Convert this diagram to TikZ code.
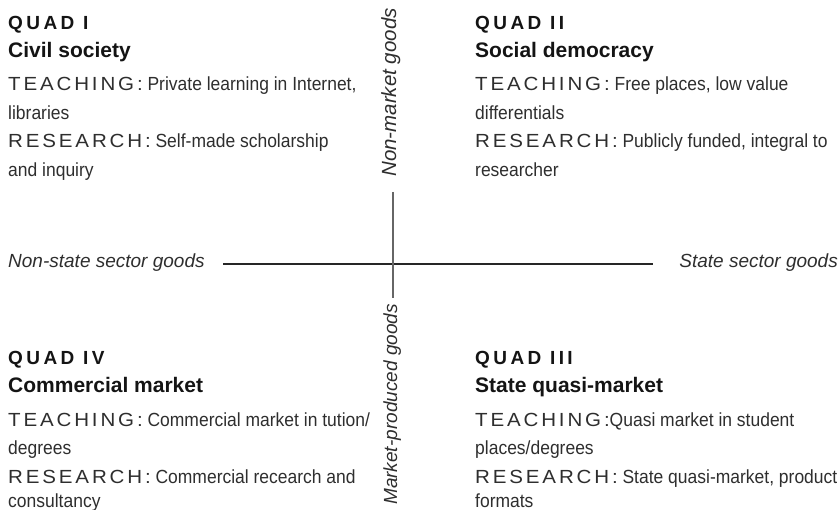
\documentclass[tikz,border=0pt]{standalone}
\usepackage{fontspec}
\setmainfont{Liberation Sans}
\newfontfamily\bodyfont[FakeStretch=0.92]{Liberation Sans}
\newfontfamily\spacedfont[LetterSpace=15,FakeStretch=1.08]{Liberation Sans}
\newfontfamily\quadfont[LetterSpace=18]{Liberation Sans}
\newcommand\lsp[1]{{\spacedfont #1}}
\begin{document}
\begin{tikzpicture}[x=1pt,y=-1pt,
  every node/.style={inner sep=0pt, anchor=base west},
  quad/.style={font=\quadfont\bfseries\fontsize{19}{21}\selectfont, text=black!92},
  ttl/.style={font=\bfseries\fontsize{21}{23}\selectfont, text=black!92},
  body/.style={font=\bodyfont\fontsize{19}{21}\selectfont, text=black!82},
  axislbl/.style={font=\itshape\fontsize{19}{21}\selectfont, text=black!82},
  hline/.style={draw=black!85, line width=1.2pt},
  vline/.style={draw=black!60, line width=1.3pt}]
\useasboundingbox (0,0) rectangle (840,510);

% Quadrant I (top left)
\node[quad] (q1h) at (8,29.5) {QUAD I};
\node[ttl]  (q1t) at (8,58) {Civil society};
\node[body] (q1a) at (8,91) {\lsp{TEACHING:} Private learning in Internet,};
\node[body] (q1b) at (8,119.5) {libraries};
\node[body] (q1c) at (8,148) {\lsp{RESEARCH:} Self-made scholarship};
\node[body] (q1d) at (8,176.5) {and inquiry};

% Quadrant II (top right)
\node[quad] (q2h) at (475,29.5) {QUAD II};
\node[ttl]  (q2t) at (475,58) {Social democracy};
\node[body] (q2a) at (475,91) {\lsp{TEACHING:} Free places, low value};
\node[body] (q2b) at (475,119.5) {differentials};
\node[body] (q2c) at (475,148) {\lsp{RESEARCH:} Publicly funded, integral to};
\node[body] (q2d) at (475,176.5) {researcher};

% Quadrant IV (bottom left)
\node[quad] (q4h) at (8,364.5) {QUAD IV};
\node[ttl]  (q4t) at (8,392) {Commercial market};
\node[body] (q4a) at (8,426) {\lsp{TEACHING:} Commercial market in tution/};
\node[body] (q4b) at (8,454.5) {degrees};
\node[body] (q4c) at (8,483) {\lsp{RESEARCH:} Commercial recearch and};
\node[body] (q4d) at (8,507) {consultancy};

% Quadrant III (bottom right)
\node[quad] (q3h) at (475,364.5) {QUAD III};
\node[ttl]  (q3t) at (475,392) {State quasi-market};
\node[body] (q3a) at (475,426) {\lsp{TEACHING:}Quasi market in student};
\node[body] (q3b) at (475,454.5) {places/degrees};
\node[body] (q3c) at (475,483) {\lsp{RESEARCH:} State quasi-market, product};
\node[body] (q3d) at (475,507) {formats};

% Axis labels
\node[axislbl] (ns) at (8,268) {Non-state sector goods};
\node[axislbl, anchor=base east] (st) at (838,268) {State sector goods};
\node[axislbl, font=\itshape\fontsize{20.5}{22}\selectfont, rotate=90, anchor=base west] (nm) at (396,177) {Non-market goods};
\node[axislbl, rotate=90, anchor=base west] (mp) at (397,505) {Market-produced goods};

% Axes
\coordinate (hl) at (223,264);
\coordinate (hr) at (653,264);
\coordinate (vt) at (393,192);
\coordinate (vb) at (393,298);
\draw[hline] (hl) -- (hr);
\draw[vline] (vt) -- (vb);
\end{tikzpicture}
\end{document}
